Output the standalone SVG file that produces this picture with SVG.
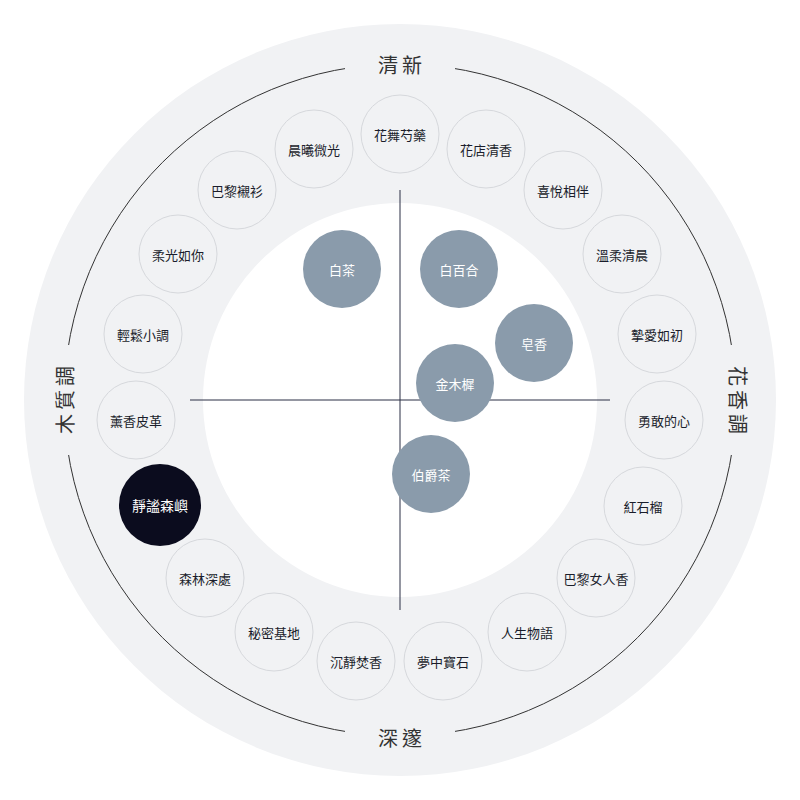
<svg xmlns="http://www.w3.org/2000/svg" width="800" height="800" viewBox="0 0 800 800">
<style>
text{font-family:"Noto Sans CJK TC","Noto Sans CJK SC",sans-serif;text-anchor:middle;dominant-baseline:central}
.n circle{fill:#f1f2f4;stroke:#d6d8dc;stroke-width:1}
.n text{font-size:13px;fill:#1a1d2b}
.b circle{fill:#8a9bab}
.b text{font-size:13px;fill:#fff}
.lab{font-size:20px;fill:#333;letter-spacing:4px}
.gap{fill:#f1f2f4}
</style>
<rect width="800" height="800" fill="#fff"/>
<circle cx="400" cy="400" r="376" fill="#f1f2f4"/>
<g id="ring">
<circle cx="400" cy="400" r="336" fill="none" stroke="#333" stroke-width="1"/>
<rect class="gap" x="345" y="50" width="110" height="30"/>
<rect class="gap" x="345" y="722" width="110" height="30"/>
<rect class="gap" x="50" y="345" width="30" height="110"/>
<rect class="gap" x="722" y="345" width="30" height="110"/>
<text class="lab" x="402" y="64">清新</text>
<text class="lab" x="402" y="737">深邃</text>
<text class="lab" transform="translate(738,400) rotate(90)" x="2" y="0">花香調</text>
<text class="lab" transform="translate(64,400) rotate(-90)" x="2" y="0">木質調</text>
</g>
<circle cx="400" cy="400" r="197" fill="#fff"/>
<g id="connectors" stroke="#2a2e45" stroke-width="1">
<line x1="400" y1="190" x2="400" y2="610"/>
<line x1="190" y1="400" x2="610" y2="400"/>
</g>
<g id="n1" class="n"><circle cx="400" cy="134" r="39"/><text x="400" y="134">花舞芍藥</text></g>
<g id="n2" class="n"><circle cx="486" cy="149" r="39"/><text x="486" y="149">花店清香</text></g>
<g id="n3" class="n"><circle cx="563" cy="190" r="39"/><text x="563" y="190">喜悅相伴</text></g>
<g id="n4" class="n"><circle cx="622" cy="254" r="39"/><text x="622" y="254">溫柔清晨</text></g>
<g id="n5" class="n"><circle cx="657" cy="334" r="39"/><text x="657" y="334">摯愛如初</text></g>
<g id="n6" class="n"><circle cx="664" cy="420" r="39"/><text x="664" y="420">勇敢的心</text></g>
<g id="n7" class="n"><circle cx="643" cy="506" r="39"/><text x="643" y="506">紅石榴</text></g>
<g id="n8" class="n"><circle cx="596" cy="578" r="39"/><text x="596" y="578">巴黎女人香</text></g>
<g id="n9" class="n"><circle cx="527" cy="632" r="39"/><text x="527" y="632">人生物語</text></g>
<g id="n10" class="n"><circle cx="443" cy="661" r="39"/><text x="443" y="661">夢中寶石</text></g>
<g id="n11" class="n"><circle cx="356" cy="661" r="39"/><text x="356" y="661">沉靜焚香</text></g>
<g id="n12" class="n"><circle cx="274" cy="632" r="39"/><text x="274" y="632">秘密基地</text></g>
<g id="n13" class="n"><circle cx="205" cy="578" r="39"/><text x="205" y="578">森林深處</text></g>
<g id="n14"><circle cx="160" cy="505" r="41" fill="#0b0c1e"/><text x="160" y="505" font-size="14" fill="#fff">靜謐森嶼</text></g>
<g id="n15" class="n"><circle cx="136" cy="420" r="39"/><text x="136" y="420">薰香皮革</text></g>
<g id="n16" class="n"><circle cx="143" cy="334" r="39"/><text x="143" y="334">輕鬆小調</text></g>
<g id="n17" class="n"><circle cx="178" cy="254" r="39"/><text x="178" y="254">柔光如你</text></g>
<g id="n18" class="n"><circle cx="237" cy="190" r="39"/><text x="237" y="190">巴黎襯衫</text></g>
<g id="n19" class="n"><circle cx="314" cy="149" r="39"/><text x="314" y="149">晨曦微光</text></g>
<g id="b1" class="b"><circle cx="342" cy="269" r="39"/><text x="342" y="269">白茶</text></g>
<g id="b2" class="b"><circle cx="459" cy="269" r="39"/><text x="459" y="269">白百合</text></g>
<g id="b3" class="b"><circle cx="534" cy="343" r="39"/><text x="534" y="343">皂香</text></g>
<g id="b4" class="b"><circle cx="455" cy="383" r="39"/><text x="455" y="383">金木樨</text></g>
<g id="b5" class="b"><circle cx="431" cy="474" r="39"/><text x="431" y="474">伯爵茶</text></g>
</svg>
